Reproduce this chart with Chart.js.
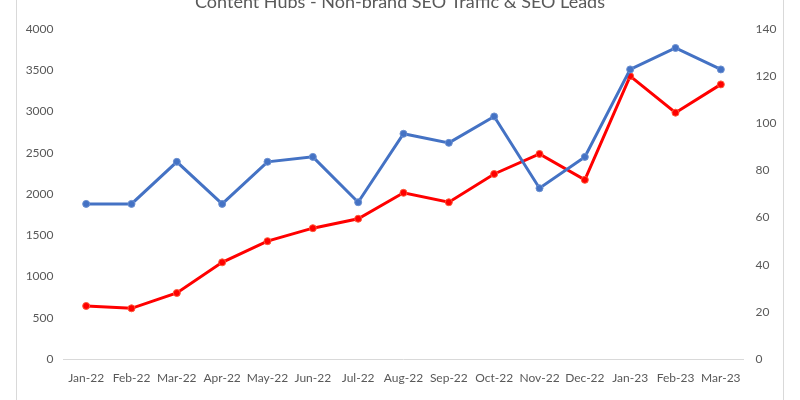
<!DOCTYPE html>
<html>
<head>
<meta charset="utf-8">
<script src="https://cdn.jsdelivr.net/npm/chart.js@4.4.0/dist/chart.umd.min.js"></script>
<style>
  html, body { margin: 0; padding: 0; width: 800px; height: 400px; overflow: hidden; background: #fff; }
  #frame { position: absolute; left: 16px; top: -20px; width: 766px; height: 460px; border-left: 1px solid #d9d9d9; border-right: 1px solid #d9d9d9; }
  #wrap { position: absolute; left: 0; top: -20px; width: 800px; height: 440px; }
</style>
</head>
<body>
<div id="frame"></div>
<div id="wrap"><canvas id="c" width="800" height="440"></canvas></div>
<script>
const titleText = 'Content Hubs - Non-brand SEO Traffic & SEO Leads';
const months = ['Jan-22','Feb-22','Mar-22','Apr-22','May-22','Jun-22','Jul-22','Aug-22','Sep-22','Oct-22','Nov-22','Dec-22','Jan-23','Feb-23','Mar-23'];
const seoTraffic = [1880, 1880, 2390, 1880, 2390, 2450, 1900, 2730, 2620, 2940, 2070, 2450, 3510, 3770, 3510];
const seoLeads = [22.5, 21.5, 28, 41, 50, 55.5, 59.5, 70.5, 66.5, 78.5, 87, 76, 120, 104.5, 116.5];
const leftTicks = [0, 500, 1000, 1500, 2000, 2500, 3000, 3500, 4000];
const rightTicks = [0, 20, 40, 60, 80, 100, 120, 140];

const tickFont = { family: 'Lato, "Liberation Sans", sans-serif', size: 12 };
const grey = '#595959';

new Chart(document.getElementById('c'), {
  type: 'line',
  data: {
    labels: months,
    datasets: [
      {
        label: 'Non-brand SEO Traffic',
        data: seoTraffic,
        yAxisID: 'y',
        borderColor: '#4472C4',
        backgroundColor: '#4472C4',
        pointBackgroundColor: '#4472C4',
        pointBorderColor: '#6a8fd0',
        borderWidth: 3,
        pointRadius: 3.5,
        pointBorderWidth: 1,
        tension: 0
      },
      {
        label: 'SEO Leads',
        data: seoLeads,
        yAxisID: 'y1',
        borderColor: '#FF0000',
        backgroundColor: '#FF0000',
        pointBackgroundColor: '#FF0000',
        pointBorderColor: '#ff5a3a',
        borderWidth: 3,
        pointRadius: 3.5,
        pointBorderWidth: 1,
        tension: 0
      }
    ]
  },
  options: {
    responsive: false,
    animation: false,
    layout: { padding: { left: 0, right: 0, top: 0, bottom: 31 } },
    plugins: {
      legend: { display: false },
      tooltip: { enabled: false },
      title: {
        display: true,
        text: titleText,
        color: grey,
        font: { family: 'Lato, "Liberation Sans", sans-serif', size: 18, weight: 'normal' },
        padding: { top: 11, bottom: 16.4 }
      }
    },
    scales: {
      x: {
        offset: true,
        grid: { display: false, drawTicks: false, offset: true },
        border: { display: true, color: '#d9d9d9', width: 1 },
        ticks: { color: grey, font: tickFont, padding: 12, maxRotation: 0, autoSkip: false },
        afterFit: (s) => { s.height = 30; }
      },
      y: {
        position: 'left',
        min: 0, max: 4000,
        afterBuildTicks: (s) => { s.ticks = leftTicks.map(v => ({ value: v })); },
        grid: { display: false, drawTicks: false },
        border: { display: false },
        ticks: { color: grey, font: tickFont, padding: 10, callback: (v) => String(v) },
        afterFit: (s) => { s.width = 63.5; }
      },
      y1: {
        position: 'right',
        min: 0, max: 140,
        afterBuildTicks: (s) => { s.ticks = rightTicks.map(v => ({ value: v })); },
        grid: { display: false, drawTicks: false },
        border: { display: false },
        ticks: { color: grey, font: tickFont, padding: 12, callback: (v) => String(v) },
        afterFit: (s) => { s.width = 56.5; }
      }
    }
  }
});
</script>
</body>
</html>
